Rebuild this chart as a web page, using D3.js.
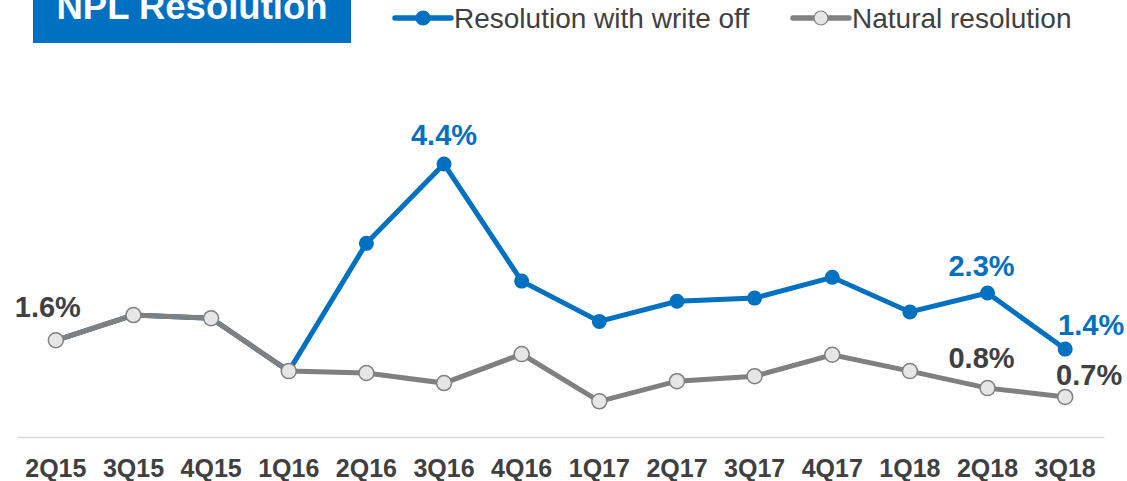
<!DOCTYPE html>
<html>
<head>
<meta charset="utf-8">
<script src="https://cdn.jsdelivr.net/npm/d3@7"></script>
<style>
  body { margin: 0; background: #fff; }
  svg { display: block; font-family: "Liberation Sans", Arial, sans-serif; }
</style>
</head>
<body>
<div id="chart"></div>
<script>
const quarters = ['2Q15', '3Q15', '4Q15', '1Q16', '2Q16', '3Q16', '4Q16',
  '1Q17', '2Q17', '3Q17', '4Q17', '1Q18', '2Q18', '3Q18'];
const writeOff = [1.6, 2.0, 1.95, 1.11, 3.14, 4.4, 2.54, 1.9, 2.22, 2.27, 2.6, 2.05, 2.35, 1.46];
const natural = [1.6, 2.0, 1.95, 1.11, 1.08, 0.92, 1.38, 0.63, 0.95, 1.03, 1.37, 1.11, 0.84, 0.7];
// labels shown on the chart: [index, text]
const writeOffLabels = [[5, '4.4%'], [12, '2.3%'], [13, '1.4%']];
const naturalLabels = [[0, '1.6%'], [12, '0.8%'], [13, '0.7%']];

const width = 1127;
const height = 481;
const blue = '#0070c0';
const grey = '#808080';
const dark = '#404040';

const svg = d3.select('#chart')
    .append('svg')
    .attr('width', width)
    .attr('height', height);

const x = d3.scaleBand()
    .domain(quarters)
    .range([17, 1104]);

const y = d3.scaleLinear()
    .domain([0, 4.4])
    .range([441, 164]);

const cx = (i) => x(quarters[i]) + x.bandwidth() / 2;

// axis
const axis = svg.append('g')
    .attr('transform', 'translate(0,437)')
    .call(d3.axisBottom(x).tickSize(0));
axis.select('.domain').attr('stroke', '#d9d9d9').attr('stroke-width', 1.5);
axis.selectAll('text')
    .attr('y', 40)
    .attr('dy', null)
    .attr('font-size', 25)
    .attr('font-weight', 'bold')
    .attr('fill', dark)
    .attr('font-family', '"Liberation Sans", Arial, sans-serif');

const line = d3.line()
    .x((d, i) => cx(i))
    .y((d) => y(d));

svg.append('path')
    .datum(writeOff)
    .attr('fill', 'none')
    .attr('stroke', blue)
    .attr('stroke-width', 5)
    .attr('d', line);

svg.selectAll('.dot-b')
    .data(writeOff)
    .enter().append('circle')
    .attr('class', 'dot-b')
    .attr('cx', (d, i) => cx(i))
    .attr('cy', (d) => y(d))
    .attr('r', 7.5)
    .attr('fill', blue);

svg.append('path')
    .datum(natural)
    .attr('fill', 'none')
    .attr('stroke', grey)
    .attr('stroke-width', 5)
    .attr('d', line);

svg.selectAll('.dot-g')
    .data(natural)
    .enter().append('circle')
    .attr('class', 'dot-g')
    .attr('cx', (d, i) => cx(i))
    .attr('cy', (d) => y(d))
    .attr('r', 7.5)
    .attr('fill', '#e6e6e6')
    .attr('stroke', grey)
    .attr('stroke-width', 1.5);

// data labels
const labelOffsets = {
  b5: [0, -19], b12: [-6, -17], b13: [26, -14],
  g0: [-8, -23], g12: [-6, -20], g13: [24, -12],
};
svg.selectAll('.lab-b')
    .data(writeOffLabels)
    .enter().append('text')
    .attr('x', (d) => cx(d[0]) + labelOffsets['b' + d[0]][0])
    .attr('y', (d) => y(writeOff[d[0]]) + labelOffsets['b' + d[0]][1])
    .attr('text-anchor', 'middle')
    .attr('font-size', 29)
    .attr('font-weight', 'bold')
    .attr('fill', blue)
    .text((d) => d[1]);

svg.selectAll('.lab-g')
    .data(naturalLabels)
    .enter().append('text')
    .attr('x', (d) => cx(d[0]) + labelOffsets['g' + d[0]][0])
    .attr('y', (d) => y(natural[d[0]]) + labelOffsets['g' + d[0]][1])
    .attr('text-anchor', 'middle')
    .attr('font-size', 29)
    .attr('font-weight', 'bold')
    .attr('fill', dark)
    .text((d) => d[1]);

// title box
svg.append('rect')
    .attr('x', 33)
    .attr('y', 0)
    .attr('width', 318)
    .attr('height', 43)
    .attr('fill', blue);
svg.append('text')
    .attr('x', 192)
    .attr('y', 18.5)
    .attr('text-anchor', 'middle')
    .attr('font-size', 36.5)
    .attr('font-weight', 'bold')
    .attr('fill', '#fff')
    .text('NPL Resolution');

// legend
const legend = [
  {name: 'Resolution with write off', x: 395, color: blue, fill: blue},
  {name: 'Natural resolution', x: 793, color: grey, fill: '#e6e6e6'},
];
const lg = svg.selectAll('.legend')
    .data(legend)
    .enter().append('g')
    .attr('transform', (d) => `translate(${d.x},18)`);
lg.append('line')
    .attr('x1', 0).attr('x2', 56)
    .attr('stroke', (d) => d.color)
    .attr('stroke-width', 5.5)
    .attr('stroke-linecap', 'round');
lg.append('circle')
    .attr('cx', 28)
    .attr('r', 7)
    .attr('fill', (d) => d.fill)
    .attr('stroke', (d) => d.color)
    .attr('stroke-width', 1.2);
lg.append('text')
    .attr('x', 59)
    .attr('y', 9.5)
    .attr('font-size', 28)
    .attr('fill', dark)
    .text((d) => d.name);
</script>
</body>
</html>
